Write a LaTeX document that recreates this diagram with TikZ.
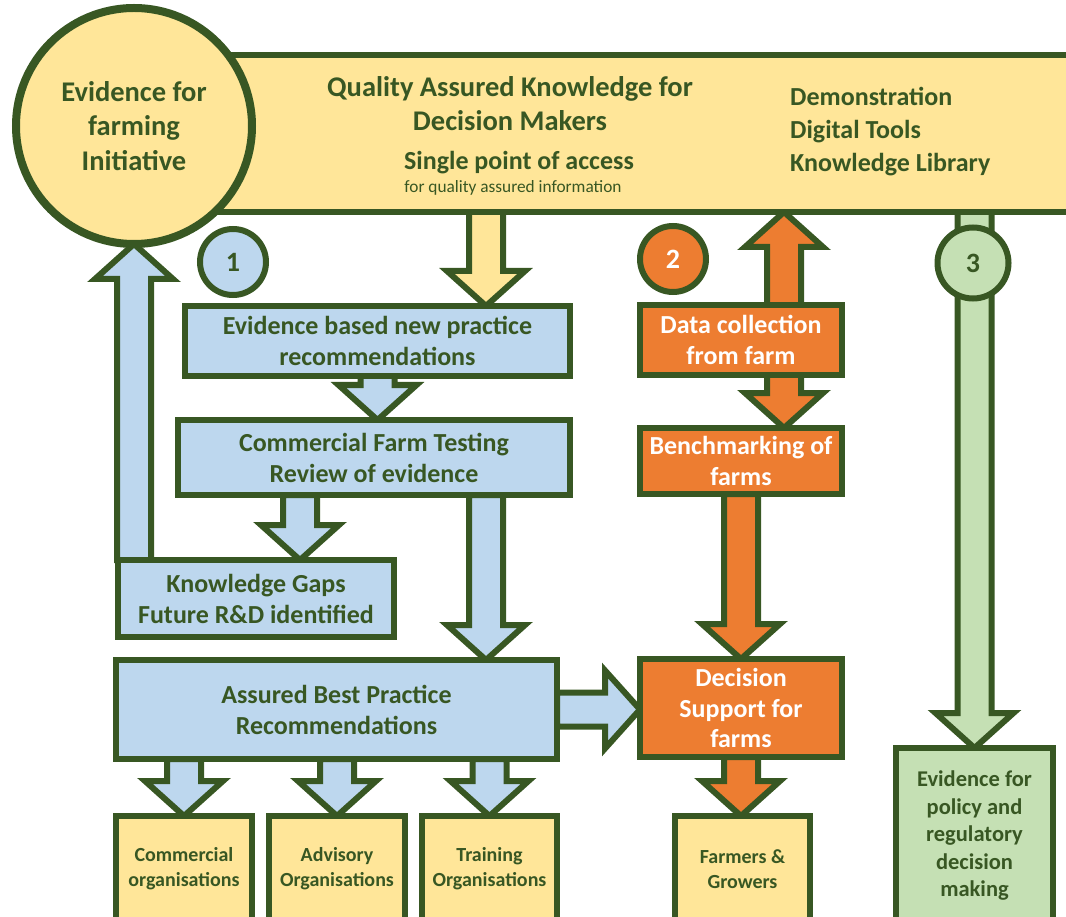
\documentclass[tikz,border=0pt]{standalone}
\usepackage{fontspec}
\setmainfont{Carlito}
\usetikzlibrary{calc}

\definecolor{dkgreen}{HTML}{385723}
\definecolor{yellowfill}{HTML}{FFE699}
\definecolor{bluefill}{HTML}{BDD7EE}
\definecolor{orangefill}{HTML}{ED7D31}
\definecolor{greenfill}{HTML}{C5E0B4}

\pgfdeclarelayer{back}
\pgfsetlayers{back,main}

% block arrow sizes
\newcommand{\fashaft}{17pt}
\newcommand{\fawing}{39pt}
\newcommand{\fahead}{35pt}
% block arrow: #1 style, #2 start, #3 tip
\newcommand{\fatarrow}[3]{%
  \path (#2) coordinate (fa-s) (#3) coordinate (fa-t);
  \path ($(fa-t)!\fahead!(fa-s)$) coordinate (fa-h);
  \draw[#1] ($(fa-s)!\fashaft!90:(fa-t)$) -- ($(fa-h)!\fashaft!90:(fa-t)$)
    -- ($(fa-h)!\fawing!90:(fa-t)$) -- (fa-t)
    -- ($(fa-h)!\fawing!-90:(fa-t)$) -- ($(fa-h)!\fashaft!-90:(fa-t)$)
    -- ($(fa-s)!\fashaft!-90:(fa-t)$) -- cycle;}

\begin{document}
\begin{tikzpicture}[
    x=1pt, y=-1pt, line join=miter,
    panel/.style={rectangle, draw=dkgreen, line width=6pt, fill=#1, text=dkgreen, align=center, inner sep=0pt, outer sep=0pt, font=\fontsize{26}{31}\selectfont\bfseries},
    smallpanel/.style={panel=#1, font=\fontsize{20}{25}\selectfont\bfseries},
    badge/.style={circle, draw=dkgreen, line width=6pt, fill=#1, text=dkgreen, minimum size=66pt, inner sep=0pt, outer sep=0pt, font=\fontsize{28}{28}\selectfont\bfseries},
    banner/.style={font=\fontsize{28.5}{34}\selectfont\bfseries, text=dkgreen, align=center, inner sep=0pt},
    fat/.style={draw=dkgreen, line width=6pt, fill=#1}
  ]
  \useasboundingbox (0,0) rectangle (1066,917);
  \clip (0,0) rectangle (1066,917);

  % Banner and initiative circle
  \node[panel=yellowfill, minimum width=880pt, minimum height=157pt] (qak) at (640,133.5) {};
  \node[circle, draw=dkgreen, line width=8pt, fill=yellowfill, minimum size=236pt, inner sep=0pt, outer sep=0pt, banner, font=\fontsize{28.5}{34.5}\selectfont\bfseries] (efi) at (134,126) {Evidence for\\farming\\Initiative};
  \node[banner] (qtitle) at (510,104) {Quality Assured Knowledge for\\Decision Makers};
  \node[banner, anchor=base, font=\fontsize{26}{30}\selectfont\bfseries] (spa) at (519,170) {Single point of access};
  \node[banner, anchor=base, font=\fontsize{17.3}{20}\selectfont] (spb) at (513,193) {for quality assured information};
  \node[banner, align=left, anchor=north west, font=\fontsize{26}{33}\selectfont\bfseries] (tools) at (790,87) {Demonstration\\Digital Tools\\Knowledge Library};

  % Numbered badges
  \node[badge=bluefill] (n1) at (233,262) {1};
  \node[badge=orangefill, text=white] (n2) at (673,259) {2};
  \node[badge=greenfill, minimum size=71pt] (n3) at (973,263) {3};

  % Route 1
  \node[panel=bluefill, minimum width=385pt, minimum height=70pt] (b1) at (377.5,341) {Evidence based new practice\\recommendations};
  \node[panel=bluefill, minimum width=392pt, minimum height=75pt] (b2) at (374,457.5) {Commercial Farm Testing\\Review of evidence};
  \node[panel=bluefill, minimum width=276pt, minimum height=77pt] (kg) at (256,598.5) {Knowledge Gaps\\Future R\&D identified};
  \node[panel=bluefill, minimum width=441pt, minimum height=99pt] (abp) at (336.5,709.5) {Assured Best Practice\\Recommendations};
  \node[smallpanel=yellowfill, minimum width=136pt, minimum height=106pt] (co) at (184,869) {Commercial\\organisations};
  \node[smallpanel=yellowfill, minimum width=136pt, minimum height=106pt] (adv) at (337,869) {Advisory\\Organisations};
  \node[smallpanel=yellowfill, minimum width=135pt, minimum height=106pt] (tr) at (489.5,869) {Training\\Organisations};

  % Route 2
  \node[panel=orangefill, text=white, minimum width=202pt, minimum height=70pt] (dc) at (741,340) {Data collection\\from farm};
  \node[panel=orangefill, text=white, minimum width=202pt, minimum height=66pt] (bm) at (741,461) {Benchmarking of\\farms};
  \node[panel=orangefill, text=white, minimum width=202pt, minimum height=98pt, font=\fontsize{26}{30.5}\selectfont\bfseries] (ds) at (741,708) {Decision\\Support for\\farms};
  \node[smallpanel=yellowfill, minimum width=135pt, minimum height=106pt] (fg) at (742.5,869) {Farmers \&\\Growers};

  % Route 3
  \node[smallpanel=greenfill, minimum width=157pt, minimum height=176pt, font=\fontsize{22.5}{27.5}\selectfont\bfseries] (ev) at (974.5,836) {Evidence for\\policy and\\regulatory\\decision\\making};

  % arrow lanes
  \coordinate (lane) at (486,0);
  \coordinate (kglane) at (300,0);
  \coordinate (olane) at (784,0);

  \begin{pgfonlayer}{back}
    \fatarrow{fat=yellowfill}{qak.south -| lane}{b1.north -| lane}
    \fatarrow{fat=bluefill}{b1.south}{b1.south |- b2.north}
    \fatarrow{fat=bluefill}{b2.south -| kglane}{kg.north -| kglane}
    \fatarrow{fat=bluefill}{b2.south -| lane}{abp.north -| lane}
    \fatarrow{fat=bluefill}{kg.north -| efi.south}{efi.south}
    \fatarrow{fat=bluefill}{abp.south -| co.north}{co.north}
    \fatarrow{fat=bluefill}{abp.south -| adv.north}{adv.north}
    \fatarrow{fat=bluefill}{abp.south -| tr.north}{tr.north}
    \fatarrow{fat=bluefill}{abp.east}{abp.east -| ds.west}
    \fatarrow{fat=orangefill}{dc.center -| olane}{qak.south -| olane}
    \fatarrow{fat=orangefill}{dc.center -| olane}{bm.north -| olane}
    \fatarrow{fat=orangefill}{bm.south}{ds.north}
    \fatarrow{fat=orangefill}{ds.south}{ds.south |- fg.north}
    \fatarrow{fat=greenfill}{qak.south -| ev.north}{ev.north}
  \end{pgfonlayer}
\end{tikzpicture}
\end{document}
